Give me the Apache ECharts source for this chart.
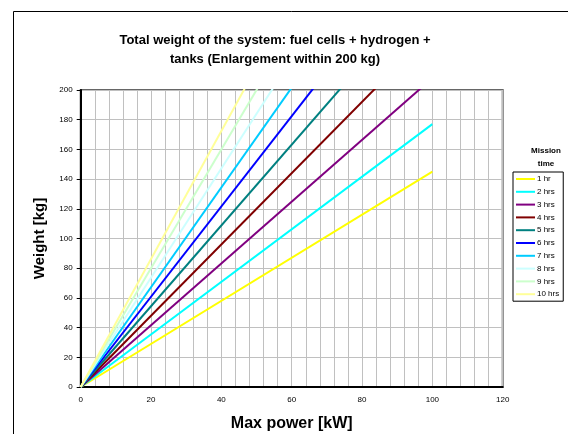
<!DOCTYPE html>
<html>
<head>
<meta charset="utf-8">
<script src="https://cdn.jsdelivr.net/npm/echarts@6/dist/echarts.min.js"></script>
<style>
  html, body { margin: 0; padding: 0; background: #fff; }
  #chart { width: 568px; height: 434px; }
</style>
</head>
<body>
<div id="chart"></div>
<script>
// mission times and weight at 100 kW (lines start from the origin)
var missions = ["1 hr", "2 hrs", "3 hrs", "4 hrs", "5 hrs", "6 hrs", "7 hrs", "8 hrs", "9 hrs", "10 hrs"];
var powerPoints = [0, 100];
var weightAt0 = [0, 0, 0, 0, 0, 0, 0, 0, 0, 0];
var weightAt100 = [145, 177, 208, 240, 272, 304, 336, 368, 400, 431];
var colors = ["#ffff00", "#00ffff", "#800080", "#800000", "#008080", "#0000ff", "#00ccff", "#ccffff", "#ccffcc", "#ffff99"];

var chart = echarts.init(document.getElementById("chart"));

var series = missions.map(function (name, i) {
  return {
    name: name,
    type: "line",
    symbol: "none",
    clip: true,
    animation: false,
    lineStyle: { width: 2, color: colors[i] },
    itemStyle: { color: colors[i] },
    data: [[powerPoints[0], weightAt0[i]], [powerPoints[1], weightAt100[i]]]
  };
});

chart.setOption({
  backgroundColor: "#fff",
  textStyle: { fontFamily: "Liberation Sans, Arial, sans-serif" },
  title: [
    {
      text: "Total weight of the system: fuel cells + hydrogen +\ntanks (Enlargement within 200 kg)",
      left: 270,
      top: 26,
      textAlign: "center",
      textStyle: { fontSize: 13, fontWeight: "bold", color: "#000", lineHeight: 19 }
    },
    {
      text: "Mission\ntime",
      left: 541,
      top: 139,
      textAlign: "center",
      textStyle: { fontSize: 8, fontWeight: "bold", color: "#000", lineHeight: 13 }
    }
  ],
  graphic: [
    {
      type: "rect",
      shape: { x: 13.5, y: 11.5, width: 700, height: 600 },
      style: { fill: null, stroke: "#000", lineWidth: 1 },
      silent: true,
      z: -1
    }
  ],
  legend: {
    orient: "vertical",
    left: 513,
    top: 172,
    width: 56,
    padding: [3, 4, 3, 3],
    itemGap: 4.8,
    icon: "rect",
    itemWidth: 19,
    itemHeight: 2,
    borderColor: "#000",
    borderWidth: 1,
    textStyle: { fontSize: 8, color: "#000", padding: [0, 0, 0, -3], lineHeight: 8 },
    data: missions
  },
  grid: {
    left: 80.7,
    right: 65.3,
    top: 90,
    bottom: 47,
    outerBoundsMode: "none",
    show: true,
    borderColor: "#666",
    borderWidth: 2
  },
  xAxis: {
    type: "value",
    min: 0,
    max: 120,
    interval: 20,
    name: "Max power [kW]",
    nameLocation: "middle",
    nameGap: 29,
    nameTextStyle: { fontSize: 16, fontWeight: "bold", color: "#000" },
    axisLine: { show: true, onZero: false, lineStyle: { color: "#000", width: 2 } },
    axisTick: { show: false },
    axisLabel: { fontSize: 8, color: "#000", margin: 9 },
    splitLine: { show: true, lineStyle: { color: "#c0c0c0", width: 1 } },
    minorTick: { show: false, splitNumber: 5 },
    minorSplitLine: { show: true, lineStyle: { color: "#c0c0c0", width: 1 } }
  },
  yAxis: {
    type: "value",
    min: 0,
    max: 200,
    interval: 20,
    name: "Weight [kg]",
    nameLocation: "middle",
    nameGap: 33,
    nameRotate: 90,
    nameTextStyle: { fontSize: 15, fontWeight: "bold", color: "#000" },
    axisLine: { show: true, lineStyle: { color: "#000", width: 2 } },
    axisTick: { show: true, length: 4, lineStyle: { color: "#000" } },
    axisLabel: { fontSize: 8, color: "#000", margin: 8 },
    splitLine: { show: true, lineStyle: { color: "#c0c0c0", width: 1 } }
  },
  series: series
});
</script>
</body>
</html>
